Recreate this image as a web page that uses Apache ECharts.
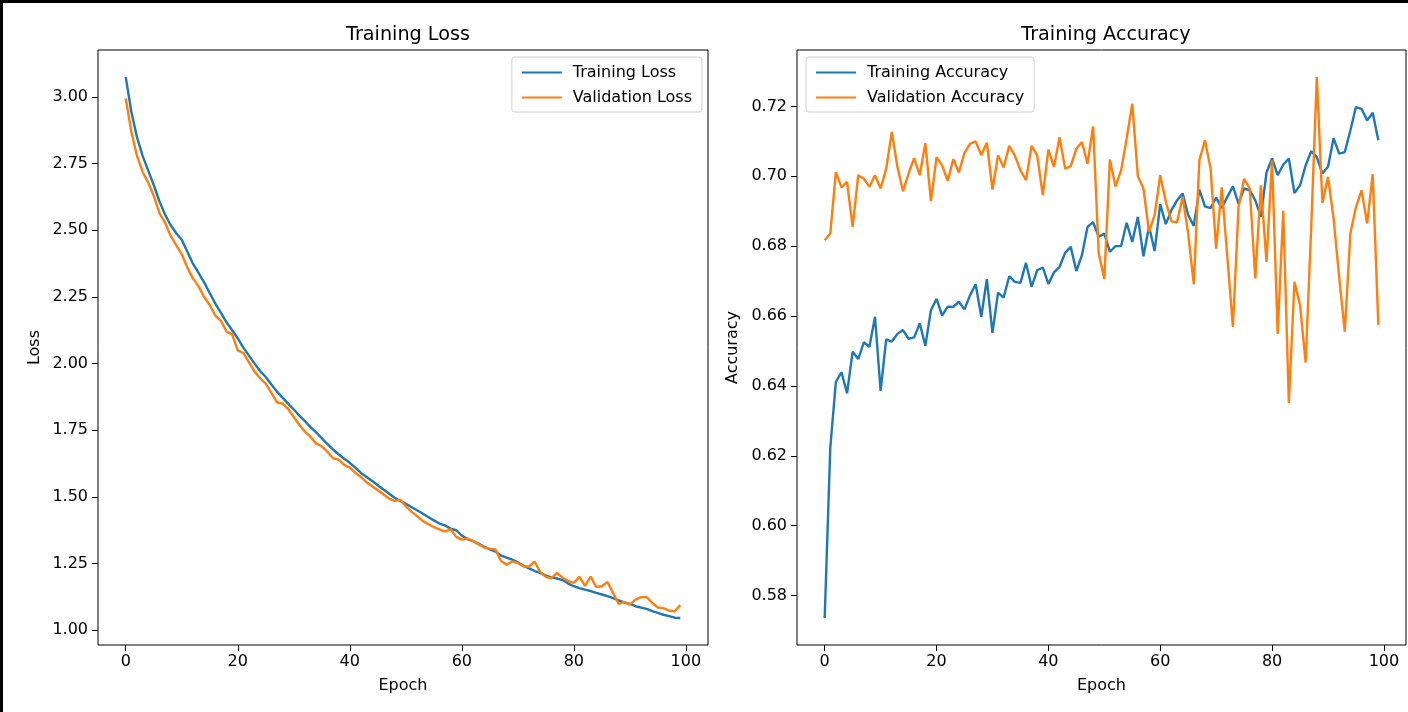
<!DOCTYPE html>
<html>
<head>
<meta charset="utf-8">
<script src="https://cdn.jsdelivr.net/npm/echarts@6/dist/echarts.min.js"></script>
<style>
html,body{margin:0;padding:0;background:#fff;}
#frame{position:absolute;left:0;top:0;width:1408px;height:712px;box-sizing:border-box;border-left:3px solid #000;border-top:3px solid #000;}
#chart{position:absolute;left:0;top:0;width:1408px;height:712px;}
</style>
</head>
<body>
<div id="chart"></div>
<div id="frame"></div>
<script>
// ---- data ----
const epochs = Array.from({length: 100}, (_, i) => i);
const xTicks = [0, 20, 40, 60, 80, 100];
const lossTicks = [1.00, 1.25, 1.50, 1.75, 2.00, 2.25, 2.50, 2.75, 3.00];
const accTicks = [0.58, 0.60, 0.62, 0.64, 0.66, 0.68, 0.70, 0.72];

const trainLoss = [
  3.075, 2.945, 2.850, 2.780, 2.725, 2.670, 2.610, 2.560, 2.520, 2.490,
  2.465, 2.420, 2.375, 2.340, 2.305, 2.265, 2.225, 2.190, 2.155, 2.125,
  2.095, 2.060, 2.030, 2.000, 1.972, 1.950, 1.922, 1.895, 1.872, 1.850,
  1.828, 1.805, 1.784, 1.762, 1.742, 1.720, 1.698, 1.678, 1.660, 1.643,
  1.628, 1.610, 1.590, 1.575, 1.560, 1.544, 1.528, 1.513, 1.497, 1.485,
  1.474, 1.462, 1.450, 1.438, 1.425, 1.412, 1.400, 1.393, 1.381, 1.375,
  1.355, 1.342, 1.334, 1.325, 1.313, 1.303, 1.295, 1.280, 1.272, 1.265,
  1.255, 1.242, 1.232, 1.222, 1.215, 1.205, 1.198, 1.194, 1.188, 1.175,
  1.165, 1.158, 1.152, 1.147, 1.140, 1.134, 1.128, 1.120, 1.112, 1.104,
  1.099, 1.090, 1.085, 1.080, 1.072, 1.065, 1.058, 1.053, 1.047, 1.046
];
const valLoss = [
  2.995, 2.870, 2.780, 2.720, 2.680, 2.630, 2.565, 2.530, 2.480, 2.445,
  2.410, 2.360, 2.320, 2.290, 2.250, 2.220, 2.180, 2.160, 2.120, 2.110,
  2.050, 2.040, 2.005, 1.970, 1.945, 1.925, 1.890, 1.855, 1.850, 1.830,
  1.800, 1.770, 1.745, 1.725, 1.700, 1.690, 1.670, 1.645, 1.640, 1.620,
  1.610, 1.590, 1.575, 1.555, 1.540, 1.525, 1.510, 1.494, 1.485, 1.490,
  1.465, 1.445, 1.428, 1.410, 1.398, 1.387, 1.378, 1.370, 1.379, 1.350,
  1.340, 1.344, 1.335, 1.322, 1.310, 1.306, 1.303, 1.260, 1.246, 1.258,
  1.252, 1.240, 1.238, 1.258, 1.218, 1.200, 1.195, 1.215, 1.196, 1.185,
  1.178, 1.200, 1.166, 1.201, 1.162, 1.165, 1.181, 1.140, 1.099, 1.106,
  1.096, 1.115, 1.124, 1.124, 1.102, 1.085, 1.083, 1.073, 1.071, 1.094
];
const trainAcc = [
  0.5736, 0.6223, 0.6412, 0.6439, 0.6379, 0.6498, 0.6477, 0.6525, 0.6512, 0.6598,
  0.6386, 0.6533, 0.6527, 0.6549, 0.6560, 0.6535, 0.6539, 0.6579, 0.6515, 0.6617,
  0.6649, 0.6601, 0.6627, 0.6626, 0.6641, 0.6619, 0.6660, 0.6691, 0.6598, 0.6706,
  0.6552, 0.6667, 0.6653, 0.6714, 0.6698, 0.6695, 0.6752, 0.6684, 0.6731, 0.6739,
  0.6692, 0.6725, 0.6741, 0.6781, 0.6798, 0.6729, 0.6774, 0.6855, 0.6869, 0.6827,
  0.6836, 0.6784, 0.6800, 0.6800, 0.6867, 0.6812, 0.6884, 0.6771, 0.6857, 0.6786,
  0.6920, 0.6863, 0.6903, 0.6931, 0.6951, 0.6889, 0.6858, 0.6962, 0.6914, 0.6909,
  0.6939, 0.6909, 0.6941, 0.6971, 0.6922, 0.6965, 0.6960, 0.6931, 0.6884, 0.7010,
  0.7051, 0.7003, 0.7033, 0.7051, 0.6952, 0.6974, 0.7031, 0.7072, 0.7055, 0.7008,
  0.7027, 0.7109, 0.7065, 0.7069, 0.7131, 0.7198, 0.7193, 0.7160, 0.7182, 0.7103
];
const valAcc = [
  0.6817, 0.6836, 0.7012, 0.6968, 0.6984, 0.6855, 0.7003, 0.6993, 0.6970, 0.7003,
  0.6965, 0.7022, 0.7127, 0.7027, 0.6957, 0.7008, 0.7052, 0.7003, 0.7095, 0.6929,
  0.7055, 0.7031, 0.6987, 0.7049, 0.7011, 0.7067, 0.7093, 0.7100, 0.7060, 0.7096,
  0.6962, 0.7060, 0.7025, 0.7087, 0.7060, 0.7017, 0.6989, 0.7087, 0.7060, 0.6946,
  0.7076, 0.7027, 0.7112, 0.7022, 0.7029, 0.7079, 0.7098, 0.7036, 0.7143, 0.6779,
  0.6706, 0.7048, 0.6971, 0.7017, 0.7108, 0.7208, 0.7000, 0.6965, 0.6841, 0.6889,
  0.7003, 0.6927, 0.6871, 0.6868, 0.6941, 0.6836, 0.6691, 0.7046, 0.7103, 0.7022,
  0.6793, 0.6968, 0.6769, 0.6569, 0.6912, 0.6993, 0.6965, 0.6708, 0.6974, 0.6755,
  0.7046, 0.6549, 0.6901, 0.6351, 0.6698, 0.6631, 0.6467, 0.6855, 0.7284, 0.6924,
  0.6998, 0.6879, 0.6712, 0.6555, 0.6836, 0.6912, 0.6960, 0.6865, 0.7006, 0.6574
];

// ---- helpers ----
const FONT = "'DejaVu Sans', sans-serif";
const FS = 16, FS_TICK = 16, FS_TITLE = 19.2;
const BLUE = '#1f77b4', ORANGE = '#ff7f0e';
const LW = 2.4;
function pairs(ys) { return epochs.map((e, i) => [e, ys[i]]); }
function autoLim(arrs) {
  const all = [].concat(...arrs);
  const lo = Math.min(...all), hi = Math.max(...all), m = (hi - lo) * 0.05;
  return [lo - m, hi + m];
}
const span = epochs[epochs.length - 1] - epochs[0];
const xLim = [epochs[0] - 0.05 * span, epochs[epochs.length - 1] + 0.05 * span];
const lossLim = autoLim([trainLoss, valLoss]);
const accLim = autoLim([trainAcc, valAcc]);

function xAxis(idx) {
  return {
    type: 'value', gridIndex: idx, min: xLim[0], max: xLim[1],
    name: 'Epoch', nameLocation: 'middle', nameGap: 33,
    nameTextStyle: {fontFamily: FONT, fontSize: FS, color: '#000'},
    axisLine: {show: false, onZero: false},
    splitLine: {show: false},
    axisTick: {show: true, length: 6, lineStyle: {color: '#000', width: 1}, customValues: xTicks},
    axisLabel: {fontFamily: FONT, fontSize: FS_TICK, color: '#000', margin: 9, customValues: xTicks,
                formatter: v => String(Math.round(v))}
  };
}
function yAxis(idx, lim, ticks, name, gap) {
  return {
    type: 'value', gridIndex: idx, min: lim[0], max: lim[1],
    name: name, nameLocation: 'middle', nameGap: gap,
    nameTextStyle: {fontFamily: FONT, fontSize: FS, color: '#000'},
    axisLine: {show: false, onZero: false},
    splitLine: {show: false},
    axisTick: {show: true, length: 6, lineStyle: {color: '#000', width: 1}, customValues: ticks},
    axisLabel: {fontFamily: FONT, fontSize: FS_TICK, color: '#000', margin: 10, customValues: ticks,
                formatter: v => v.toFixed(2)}
  };
}
function legend(names, pos) {
  return Object.assign({
    data: names, orient: 'vertical', top: 57,
    icon: 'rect', itemWidth: 40, itemHeight: 2, itemGap: 8,
    padding: [7, 10, 6, 10],
    borderColor: '#d0d0d0', borderWidth: 1, borderRadius: 3,
    backgroundColor: 'rgba(255,255,255,0.8)',
    textStyle: {fontFamily: FONT, fontSize: FS, color: '#000', lineHeight: 17, padding: [0, 0, 0, 6]}
  }, pos);
}

const chart = echarts.init(document.getElementById('chart'), null, {renderer: 'canvas'});
chart.setOption({
  animation: false,
  backgroundColor: 'transparent',
  title: [
    {text: 'Training Loss', left: 403, top: 21, textAlign: 'center',
     textStyle: {fontFamily: FONT, fontSize: FS_TITLE, fontWeight: 'normal', color: '#000'}},
    {text: 'Training Accuracy', left: 1101, top: 21, textAlign: 'center',
     textStyle: {fontFamily: FONT, fontSize: FS_TITLE, fontWeight: 'normal', color: '#000'}}
  ],
  grid: [
    {left: 98, top: 50, width: 610, height: 595, show: true, borderColor: '#000', borderWidth: 1, backgroundColor: '#fff'},
    {left: 797, top: 50, width: 609, height: 595, show: true, borderColor: '#000', borderWidth: 1, backgroundColor: '#fff'}
  ],
  xAxis: [xAxis(0), xAxis(1)],
  yAxis: [yAxis(0, lossLim, lossTicks, 'Loss', 55), yAxis(1, accLim, accTicks, 'Accuracy', 56)],
  legend: [
    legend(['Training Loss', 'Validation Loss'], {right: 706}),
    legend(['Training Accuracy', 'Validation Accuracy'], {left: 806})
  ],
  series: [
    {name: 'Training Loss', type: 'line', xAxisIndex: 0, yAxisIndex: 0, data: pairs(trainLoss),
     showSymbol: false, symbol: 'none', color: BLUE, lineStyle: {width: LW, color: BLUE}},
    {name: 'Validation Loss', type: 'line', xAxisIndex: 0, yAxisIndex: 0, data: pairs(valLoss),
     showSymbol: false, symbol: 'none', color: ORANGE, lineStyle: {width: LW, color: ORANGE}},
    {name: 'Training Accuracy', type: 'line', xAxisIndex: 1, yAxisIndex: 1, data: pairs(trainAcc),
     showSymbol: false, symbol: 'none', color: BLUE, lineStyle: {width: LW, color: BLUE}},
    {name: 'Validation Accuracy', type: 'line', xAxisIndex: 1, yAxisIndex: 1, data: pairs(valAcc),
     showSymbol: false, symbol: 'none', color: ORANGE, lineStyle: {width: LW, color: ORANGE}}
  ]
});
</script>
</body>
</html>
